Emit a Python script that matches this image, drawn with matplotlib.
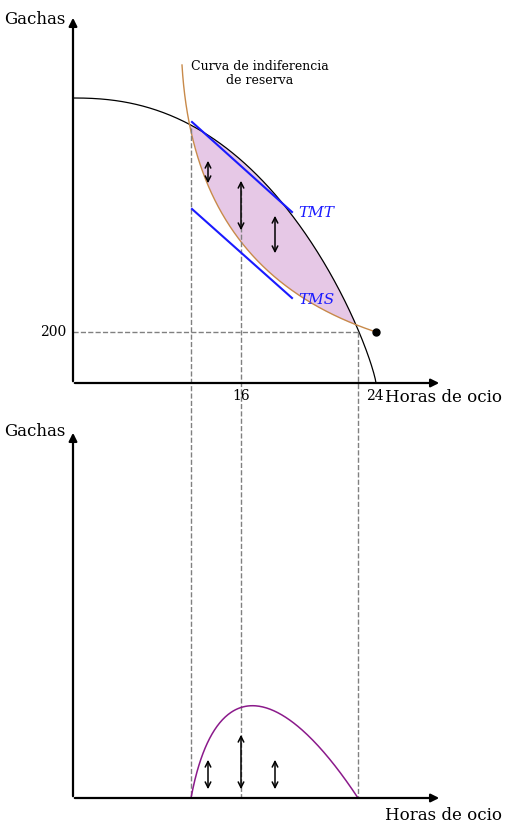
import numpy as np
import matplotlib.pyplot as plt

# diagram coordinates in pixels (y grows downwards)
x_vert = [191, 241, 358]
arrow_x = [208, 241, 275]
top_arrows = [(158, 186), (178, 233), (213, 256)]
bot_arrows = [(757, 792), (732, 792), (757, 792)]
indif_ctrl = [(182, 65), (190, 200), (250, 290), (376, 332)]
bottom_ctrl = [(191, 798), (215, 670), (280, 680), (358, 798)]


def bezier(pts, n=200):
    t = np.linspace(0, 1, n)[:, None]
    p = np.array(pts, dtype=float)
    b = ((1-t)**3)*p[0] + 3*((1-t)**2)*t*p[1] + 3*(1-t)*t**2*p[2] + t**3*p[3]
    return b[:, 0], b[:, 1]


def frontier(x):
    u = np.clip((x - 73) / 303.0, 0, 1)
    return 383 - 285 * (1 - u**2.3)**0.825


fig = plt.figure(figsize=(5.08, 8.26), dpi=100)
ax = fig.add_axes([0, 0, 1, 1])
ax.set_xlim(0, 508)
ax.set_ylim(826, 0)
ax.axis('off')

ap = dict(arrowstyle='-|>', lw=1.6, color='black', mutation_scale=12)
for oy, top in [(383, 15), (798, 430)]:
    ax.annotate('', xy=(73, top), xytext=(73, oy + 1), arrowprops=ap)
    ax.annotate('', xy=(442, oy), xytext=(72, oy), arrowprops=ap)

# shaded area
xs = np.linspace(188, 360, 300)
ix, iy = bezier(indif_ctrl, 400)
ind_y = np.interp(xs, ix, iy)
fy = frontier(xs)
ax.fill_between(xs, fy, ind_y, where=ind_y > fy, color='#e6c8e6', lw=0)

xf = np.linspace(73, 376, 400)
ax.plot(xf, frontier(xf), color='black', lw=0.9)
ax.plot(ix, iy, color='#c88a4a', lw=1)
ax.plot(376, 332, 'o', color='black', ms=5)

for xv, ys in zip(x_vert, [128, 190, 332]):
    ax.plot([xv, xv], [ys, 798], ls='--', color='gray', lw=1)
ax.plot([73, 358], [332, 332], ls='--', color='gray', lw=1)

ax.plot([192, 292], [122, 212], color='#1a1aff', lw=1.5)
ax.plot([192, 292], [209, 298], color='#1a1aff', lw=1.5)

dp = dict(arrowstyle='<->', lw=1.1, color='black', mutation_scale=10)
for xa, (a, b) in zip(arrow_x, top_arrows):
    ax.annotate('', xy=(xa, a), xytext=(xa, b), arrowprops=dp)
for xa, (a, b) in zip(arrow_x, bot_arrows):
    ax.annotate('', xy=(xa, a), xytext=(xa, b), arrowprops=dp)

bx, by = bezier(bottom_ctrl)
ax.plot(bx, by, color='#8b1a8b', lw=1.1)

f = dict(family='DejaVu Serif')
ax.text(4, 20, 'Gachas', fontsize=12, va='center', **f)
ax.text(4, 432, 'Gachas', fontsize=12, va='center', **f)
ax.text(385, 398, 'Horas de ocio', fontsize=12, va='center', **f)
ax.text(385, 815, 'Horas de ocio', fontsize=12, va='center', **f)
ax.text(66, 332, '200', fontsize=10, va='center', ha='right', **f)
ax.text(241, 396, '16', fontsize=10, va='center', ha='center', **f)
ax.text(375, 396, '24', fontsize=10, va='center', ha='center', **f)
ax.text(260, 74, 'Curva de indiferencia\nde reserva', fontsize=9, ha='center',
        va='center', linespacing=1.1, **f)
ax.text(298, 213, 'TMT', fontsize=11, color='#1a1aff', style='italic', va='center', **f)
ax.text(298, 300, 'TMS', fontsize=11, color='#1a1aff', style='italic', va='center', **f)

fig.savefig('out.png', dpi=100)
